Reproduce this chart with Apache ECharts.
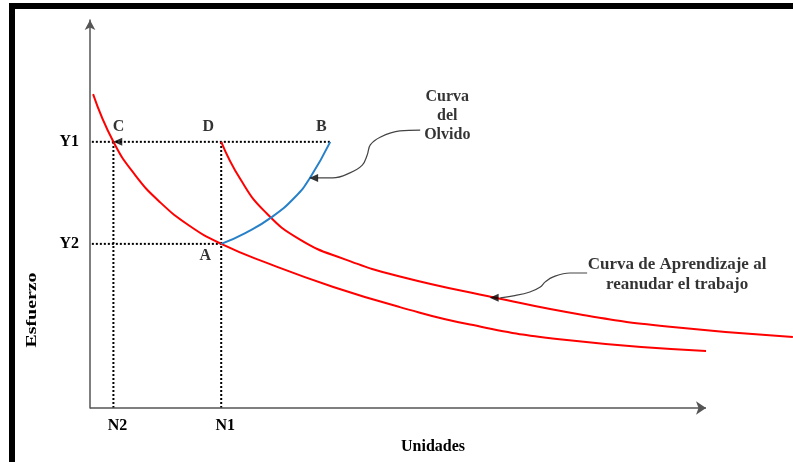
<!DOCTYPE html>
<html>
<head>
<meta charset="utf-8">
<style>
  html, body { margin: 0; padding: 0; background: #fff; }
  #chart { width: 793px; height: 462px; }
</style>
<script src="https://cdn.jsdelivr.net/npm/echarts@6/dist/echarts.min.js"></script>
</head>
<body>
<div id="chart"></div>
<script>
// Guide values on each axis (units: Unidades 0-100 on the drawn axis, Esfuerzo 0-100)
const nLabels = ['N2', 'N1'];
const nValues = [3.8, 21.3];
const yLabels = ['Y1', 'Y2'];
const yValues = [68.6, 42.3];
const xB = 39.0;
const xAxisEnd = 100;

// First learning curve
const learnX = [0.5, 3.8, 7.3, 11.4, 16.2, 21.3, 28.7, 39.5, 50.3, 61.7, 77.4, 100];
const learnY = [80.9, 68.6, 60.1, 53.0, 46.9, 42.3, 37.4, 31.2, 26.0, 21.5, 17.5, 14.7];

// Learning curve when work resumes (runs past the end of the axis)
const relearnX = [21.3, 24.4, 28.4, 34.1, 41.4, 50.3, 65.6, 79.6, 93.7, 114.1];
const relearnY = [68.6, 59.0, 50.6, 43.4, 38.3, 33.9, 28.5, 24.1, 21.0, 18.3];

// Forgetting curve (A -> B)
const forgetX = [21.3, 25.2, 29.5, 33.3, 35.7, 39.0];
const forgetY = [42.3, 45.1, 49.2, 54.4, 59.3, 68.6];

// Annotation connectors
const olvidoX = [53.6, 50.3, 47.1, 45.5, 45.0, 44.2, 42.2, 39.4, 36.9];
const olvidoY = [71.6, 71.4, 69.8, 67.8, 65.2, 62.6, 60.6, 59.3, 59.3];
const reanudarX = [80.7, 77.9, 75.2, 73.9, 73.1, 71.4, 68.7, 66.6];
const reanudarY = [34.8, 34.8, 33.8, 32.5, 31.2, 29.9, 28.9, 28.4];

const serif = '"Liberation Serif", "DejaVu Serif", serif';
const zip = (xs, ys) => xs.map((x, i) => [x, ys[i]]);
const red = '#ff0000';
const blue = '#2780c8';
const ink = '#000';

const chart = echarts.init(document.getElementById('chart'));

const dotted = { color: ink, width: 2, type: [2, 2] };
const guide = (pts) => ({
    type: 'line', data: pts, symbol: 'none', silent: true,
    lineStyle: dotted, z: 1
});

const curve = (xs, ys, color, width) => ({
    type: 'line', data: zip(xs, ys), smooth: 0.5,
    symbol: 'none', lineStyle: { color: color, width: width }, z: 3
});

const pointLabel = (name, x, y, dx, dy) => ({
    value: [x, y],
    label: { show: true, formatter: name, position: 'inside', offset: [dx, dy] }
});

const option = {
    animation: false,
    grid: { left: 90, right: 0, top: 20, bottom: 54 },
    xAxis: {
        type: 'value', min: 0, max: 114.12,
        axisLine: { show: false },
        axisTick: { show: false },
        splitLine: { show: false },
        axisLabel: {
            customValues: nValues, margin: 10, padding: [0, 0, 0, 8],
            formatter: v => nLabels[nValues.indexOf(v)],
            fontFamily: serif, fontWeight: 'bold', fontSize: 16, color: ink
        }
    },
    yAxis: {
        type: 'value', min: 0, max: 100,
        axisLine: { show: true, symbol: ['none', 'arrow'], symbolSize: [8, 10],
            lineStyle: { color: '#555', width: 1.5 } },
        axisTick: { show: false },
        splitLine: { show: false },
        axisLabel: {
            customValues: yValues, margin: 11,
            formatter: v => yLabels[yValues.indexOf(v)],
            fontFamily: serif, fontWeight: 'bold', fontSize: 16, color: ink
        }
    },
    series: [
        {
            // horizontal axis with arrow, stops short of the plot edge
            type: 'line', data: [], silent: true,
            markLine: {
                symbol: ['none', 'arrow'], symbolSize: 10, silent: true,
                label: { show: false },
                lineStyle: { color: '#555', width: 1.5, type: 'solid' },
                data: [[{ coord: [0, 0] }, { coord: [xAxisEnd, 0] }]]
            }
        },
        guide([[0.3, yValues[0]], [xB, yValues[0]]]),
        guide([[0.3, yValues[1]], [nValues[1], yValues[1]]]),
        guide([[nValues[0], 0], [nValues[0], yValues[0]]]),
        guide([[nValues[1], 0], [nValues[1], yValues[0]]]),
        curve(learnX, learnY, red, 2),
        curve(relearnX, relearnY, red, 2),
        curve(forgetX, forgetY, blue, 2),
        {
            type: 'line', data: zip(olvidoX, olvidoY), smooth: 0.4, symbol: 'none',
            lineStyle: { color: '#444', width: 1.2 }, z: 4
        },
        {
            type: 'line', data: zip(reanudarX, reanudarY), smooth: 0.4, symbol: 'none',
            lineStyle: { color: '#444', width: 1.2 }, z: 4
        },
        {
            // arrowheads
            type: 'scatter', symbol: 'triangle', symbolSize: [8, 9], symbolRotate: 90,
            itemStyle: { color: '#000' }, z: 5,
            data: [[4.5, yValues[0]], [36.3, 59.3], [65.6, 28.4]]
        },
        {
            // point names and annotation texts
            type: 'scatter', symbolSize: 0, z: 6,
            label: { fontFamily: serif, fontWeight: 'bold', fontSize: 16, color: ink },
            data: [
                pointLabel('C', nValues[0], yValues[0], 5, -15),
                pointLabel('D', nValues[1], yValues[0], -13, -15),
                pointLabel('B', xB, yValues[0], -9, -15),
                pointLabel('A', nValues[1], yValues[1], -16, 12),
                {
                    value: [58.0, 75.3],
                    label: { show: true, position: 'inside', align: 'center',
                        lineHeight: 19, formatter: 'Curva\ndel\nOlvido' }
                },
                {
                    value: [95.3, 34.3],
                    label: { show: true, position: 'inside', align: 'center', fontSize: 17,
                        lineHeight: 20, formatter: 'Curva de Aprendizaje al\nreanudar el trabajo' }
                }
            ]
        }
    ],
    graphic: [
        { type: 'rect', shape: { x: 9, y: 3, width: 784, height: 6 }, style: { fill: '#000' } },
        { type: 'rect', shape: { x: 9, y: 3, width: 6, height: 459 }, style: { fill: '#000' } },
        {
            type: 'text', x: 433, y: 447,
            style: { text: 'Unidades', font: 'bold 16px ' + serif, fill: ink,
                textAlign: 'center', textVerticalAlign: 'middle' }
        },
        {
            type: 'text', x: 32, y: 310, rotation: Math.PI / 2, scaleX: 1.42,
            style: { text: 'Esfuerzo', font: 'bold 14px ' + serif, fill: ink,
                textAlign: 'center', textVerticalAlign: 'middle' }
        }
    ]
};

chart.setOption(option);
</script>
</body>
</html>
